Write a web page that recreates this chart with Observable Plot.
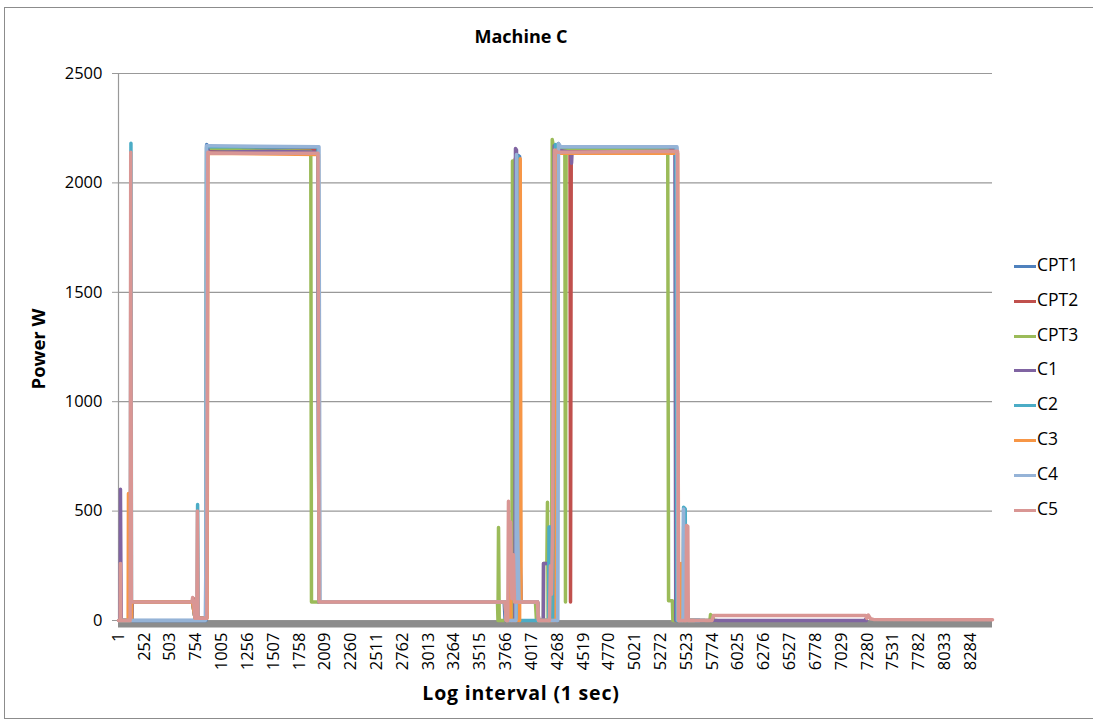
<!DOCTYPE html>
<html>
<head>
<meta charset="utf-8">
<script src="https://cdn.jsdelivr.net/npm/d3@7"></script>
<script src="https://cdn.jsdelivr.net/npm/@observablehq/plot@0.6"></script>
<style>
  body { margin: 0; background: #fff; }
  #chart { position: relative; width: 1093px; height: 722px; overflow: hidden; font-family: "Open Sans", sans-serif; color: #000; }
  #frame { position: absolute; left: 4px; top: 7px; width: 1120px; height: 712px; border: 1px solid #8c8c8c; box-sizing: border-box; }
  #plot { position: absolute; left: 0; top: 0; }
  #title { position: absolute; left: 521px; top: 24px; transform: translateX(-50%); font-weight: bold; font-size: 18px; white-space: nowrap; }
  #ylabel { position: absolute; left: 37px; top: 349px; transform: translate(-50%, -50%) rotate(-90deg); font-weight: bold; font-size: 18.5px; white-space: nowrap; }
  #xlabel { position: absolute; left: 521px; top: 692px; transform: translate(-50%, -50%); font-weight: bold; font-size: 19.5px; letter-spacing: 0.8px; white-space: nowrap; }
  #legend { position: absolute; left: 1014px; top: 252px; font-size: 17.5px; }
  .item { height: 34.8px; display: flex; align-items: flex-start; }
  .swatch { width: 22px; height: 3px; margin-top: 13px; margin-right: 1px; }
</style>
</head>
<body>
<div id="chart">
  <div id="frame"></div>
  <div id="plot"></div>
  <div id="title">Machine C</div>
  <div id="ylabel">Power W</div>
  <div id="xlabel">Log interval (1 sec)</div>
  <div id="legend"></div>
</div>
<script>
// Series names and their line colours
const seriesNames = ["CPT1", "CPT2", "CPT3", "C1", "C2", "C3", "C4", "C5"];
const seriesColors = ["#4F81BD", "#C0504D", "#9BBB59", "#8064A2", "#4BACC6", "#F79646", "#95B3D7", "#D99694"];

// Power readings as [log interval, watts] breakpoints, one list per series
const CPT1 = [[1,0],[850,0],[858,2175],[880,2160],[1200,2165],[1600,2158],[1940,2160],[1950,85],[3750,85],[3760,0],[3880,0],[3888,2125],[3900,2120],[3908,250],[3915,85],[4074,85],[4084,0],[4268,0],[4276,2180],[4300,2160],[4800,2165],[5200,2158],[5426,2160],[5436,0],[5700,0]];
const CPT2 = [[1,0],[125,0],[130,85],[720,85],[730,100],[745,10],[855,10],[865,2150],[1500,2148],[1940,2150],[1950,85],[3760,85],[3770,0],[3850,0],[3858,2110],[3870,2110],[3878,85],[4074,85],[4084,0],[4250,0],[4260,2150],[4390,2150],[4395,85],[4402,2150],[5420,2150],[5430,0],[5650,0]];
const CPT3 = [[1,0],[130,0],[135,85],[720,85],[745,10],[850,10],[858,2160],[1200,2150],[1870,2145],[1877,85],[3685,85],[3690,0],[3695,425],[3702,0],[3825,0],[3831,2100],[3840,2100],[3846,85],[4054,85],[4064,0],[4132,0],[4134,260],[4165,260],[4171,540],[4178,0],[4212,0],[4217,2198],[4230,2165],[4340,2160],[4346,85],[4352,2160],[5340,2150],[5348,90],[5385,90],[5390,0],[5750,0],[5756,27],[5775,20],[5790,0],[5820,0]];
const C1 = [[1,0],[18,0],[20,600],[24,260],[28,0],[130,0],[135,85],[720,85],[745,10],[856,10],[864,2165],[880,2140],[1500,2145],[1940,2140],[1950,85],[3760,85],[3765,0],[3855,0],[3860,2157],[3870,2150],[3876,0],[3890,0],[3895,450],[3905,250],[3912,85],[4074,85],[4084,0],[4130,0],[4132,260],[4230,260],[4236,2170],[4250,2150],[4400,2140],[4405,2090],[4410,2140],[5410,2145],[5418,0],[7255,0],[7263,5],[7270,0]];
const C2 = [[1,0],[116,0],[122,2181],[127,85],[720,85],[745,10],[765,10],[770,530],[776,10],[850,10],[858,2165],[1940,2165],[1950,85],[3760,85],[3770,0],[3880,0],[3885,2120],[3895,0],[4181,0],[4186,427],[4200,427],[4205,0],[4240,0],[4248,2175],[4270,2165],[5420,2165],[5430,0],[5490,0],[5494,518],[5510,510],[5516,0],[5650,0]];
const C3 = [[1,0],[95,0],[98,580],[104,0],[127,0],[130,85],[720,85],[745,10],[862,10],[870,2135],[1945,2130],[1955,85],[3760,85],[3770,0],[3800,0],[3806,380],[3815,0],[3900,0],[3906,2110],[3914,85],[4074,85],[4084,0],[4255,0],[4263,2150],[4290,2135],[5436,2135],[5445,0],[5465,0],[5470,260],[5478,0],[5490,0],[5495,430],[5503,0],[5600,0]];
const C4 = [[1,0],[845,0],[850,240],[856,2170],[880,2170],[1950,2165],[1960,85],[3760,85],[3770,0],[3865,0],[3870,2130],[3880,450],[3895,85],[4074,85],[4084,0],[4270,0],[4278,2180],[4300,2165],[5430,2165],[5440,0],[5488,0],[5494,510],[5500,0],[5650,0]];
const C5 = [[1,0],[18,0],[20,260],[24,0],[114,0],[120,2140],[127,85],[715,85],[722,105],[730,90],[745,10],[762,10],[768,500],[775,10],[860,10],[870,2140],[900,2135],[1940,2135],[1950,85],[3760,85],[3770,0],[3785,0],[3792,545],[3800,250],[3812,450],[3825,100],[3840,300],[3850,85],[3918,85],[4074,85],[4084,0],[4190,0],[4200,250],[4210,120],[4220,400],[4240,2150],[4270,2140],[5436,2145],[5445,0],[5518,0],[5523,434],[5535,430],[5540,0],[5770,0],[5785,23],[7263,23],[7275,10],[7290,25],[7311,8],[7340,5],[8497,3]];

const seriesData = [CPT1, CPT2, CPT3, C1, C2, C3, C4, C5];

// Axis tick values
const xTicks = [1,252,503,754,1005,1256,1507,1758,2009,2260,2511,2762,3013,3264,3515,3766,4017,4268,4519,4770,5021,5272,5523,5774,6025,6276,6527,6778,7029,7280,7531,7782,8033,8284];
const yTicks = [0, 500, 1000, 1500, 2000, 2500];

const lineMarks = seriesData.map((pts, i) =>
  Plot.line(pts.map(([t, w]) => ({t, w})), {
    x: "t", y: "w", stroke: seriesColors[i], strokeWidth: 3.5,
    strokeLinejoin: "round", strokeLinecap: "round"
  })
);

const chart = Plot.plot({
  width: 1093,
  height: 722,
  marginLeft: 118,
  marginRight: 101,
  marginTop: 73,
  marginBottom: 102,
  style: { fontFamily: "'Open Sans', sans-serif", fontSize: "16.5px", background: "transparent", color: "#000" },
  x: { type: "linear", domain: [1, 8497] },
  y: { domain: [0, 2500] },
  marks: [
    Plot.gridY(yTicks, { stroke: "#999", strokeOpacity: 1, strokeWidth: 1.2 }),
    Plot.ruleX([1], { stroke: "#999", strokeWidth: 1.2 }),
    Plot.axisY(yTicks, { tickSize: 6, tickPadding: 10, stroke: "#999", label: null, fontSize: 16.5, tickFormat: d => String(d) }),
    Plot.axisX(xTicks, { tickSize: 0, tickPadding: 12, tickRotate: -90, label: null, fontSize: 16.5, tickFormat: d => String(d) }),
    Plot.ruleY([0], { stroke: "#8c8c8c", strokeWidth: 7, dy: 3.5 }),
    ...lineMarks
  ]
});
document.getElementById("plot").appendChild(chart);

// Legend on the right
const legend = document.getElementById("legend");
seriesNames.forEach((name, i) => {
  const item = document.createElement("div");
  item.className = "item";
  const sw = document.createElement("div");
  sw.className = "swatch";
  sw.style.background = seriesColors[i];
  const label = document.createElement("span");
  label.textContent = name;
  item.appendChild(sw);
  item.appendChild(label);
  legend.appendChild(item);
});
</script>
</body>
</html>
